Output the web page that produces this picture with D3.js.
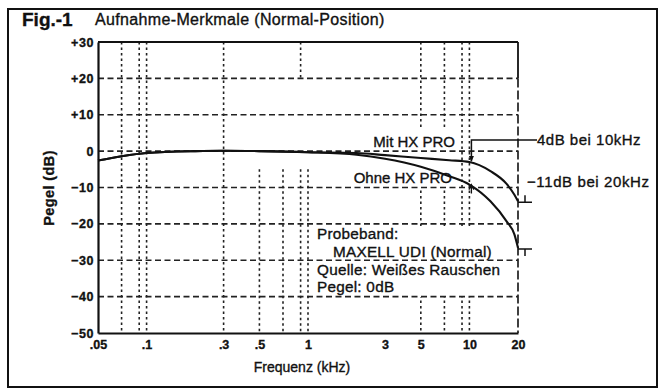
<!DOCTYPE html>
<html><head><meta charset="utf-8">
<script src="https://cdn.jsdelivr.net/npm/d3@7"></script>
<style>
html,body{margin:0;padding:0;background:#fff;}
svg{display:block;}
text{font-family:"Liberation Sans",Arial,Helvetica,sans-serif;fill:#111;stroke:#111;stroke-width:0.35px;}
</style></head>
<body>
<svg id="c" width="661" height="389"></svg>
<script>
// ---- data ----
const freqs = [0.05, 0.07, 0.1, 0.2, 0.3, 0.5, 1, 2, 3, 5, 7.5, 10, 13.5, 17, 19, 20];
const mitHX  = [-2.6, -1.4, -0.5, 0, 0.1, 0, -0.3, -0.5, -1.1, -1.9, -2.5, -3.0, -5.5, -9.0, -12.0, -13.8];
const ohneHX = [-2.6, -1.4, -0.5, 0, 0.1, 0, -0.3, -1.0, -2.1, -4.3, -6.9, -9.2, -13.8, -19.3, -22.9, -26.6];
const xTicks = [0.05, 0.1, 0.3, 0.5, 1, 3, 5, 10, 20];
const xTickLabels = [".05", ".1", ".3", ".5", "1", "3", "5", "10", "20"];
const yTicks = [30, 20, 10, 0, -10, -20, -30, -40, -50];
const yTickLabels = ["+30", "+20", "+10", "0", "\u221210", "\u221220", "\u221230", "\u221240", "\u221250"];
const hGrid = [20, 10, 0, -10, -20, -30, -40];
const vGridFreqs = [0.07, 0.09, 0.1, 0.3, 0.5, 0.7, 0.9, 0.9, 1, 5, 7, 9, 10];
const vGridFrom  = [30, 30, 30, 30, -5, -5, 30, -5, -5, 30, 30, 30, 30];
const vGridTo    = [-50, -50, -50, -50, -50, -50, 20, -50, -50, -50, -50, -50, -50];
const title1 = "Fig.-1";
const title2 = "Aufnahme-Merkmale (Normal-Position)";
const xTitle = "Frequenz (kHz)";
const yTitle = "Pegel (dB)";
const seriesNames = ["Mit HX PRO", "Ohne HX PRO"];
const noteLines = ["Probeband:", "MAXELL UDI (Normal)", "Quelle: Wei\u00dfes Rauschen", "Pegel: 0dB"];
const ann10k = "4dB bei 10kHz";
const ann20k = "\u221211dB bei 20kHz";

// ---- layout ----
const svg = d3.select("#c");
const x = d3.scaleLog().domain([0.05, 20]).range([98, 518]);
const y = d3.scaleLinear().domain([-50, 30]).range([333, 42]);

// outer frame
svg.append("rect").attr("x", 8).attr("y", 9).attr("width", 649).attr("height", 378)
  .attr("fill", "none").attr("stroke", "#111").attr("stroke-width", 2);

// titles
svg.append("text").attr("x", 22).attr("y", 26).attr("font-size", 19).attr("font-weight", "bold").text(title1);
svg.append("text").attr("x", 95).attr("y", 25).attr("font-size", 16).attr("letter-spacing", 0.35).text(title2);

// vertical grid
const g = svg.append("g");
g.selectAll(".vg").data(vGridFreqs).join("line")
  .attr("x1", d => x(d)).attr("x2", d => x(d))
  .attr("y1", (d, i) => y(vGridFrom[i])).attr("y2", (d, i) => y(vGridTo[i]))
  .attr("stroke", "#222").attr("stroke-width", 1.6).attr("stroke-dasharray", "2.5,3");

// white masks behind text blocks (vertical lines interrupted)
g.append("rect").attr("x", 345).attr("y", 127).attr("width", 110).attr("height", 63).attr("fill", "#fff");
g.append("rect").attr("x", 312).attr("y", 228).attr("width", 193).attr("height", 69).attr("fill", "#fff");

// right edge (dashed) and top edge
g.append("line").attr("x1", x(20)).attr("x2", x(20)).attr("y1", y(30)).attr("y2", y(20))
  .attr("stroke", "#111").attr("stroke-width", 1.8);
g.append("line").attr("x1", x(20)).attr("x2", x(20)).attr("y1", y(20)).attr("y2", y(-50))
  .attr("stroke", "#111").attr("stroke-width", 1.6).attr("stroke-dasharray", "9,3");

// horizontal grid
g.selectAll(".hg").data(hGrid).join("line")
  .attr("x1", x(0.05)).attr("x2", x(20))
  .attr("y1", d => y(d)).attr("y2", d => y(d))
  .attr("stroke", "#222").attr("stroke-width", 1.7).attr("stroke-dasharray", "6,3.5");

// top line
g.append("line").attr("x1", x(0.05)).attr("x2", x(20)).attr("y1", y(30)).attr("y2", y(30))
  .attr("stroke", "#111").attr("stroke-width", 1.8);

// axes (left & bottom) using d3 axes
const yAxis = d3.axisLeft(y).tickValues(yTicks).tickSize(0).tickFormat((d, i) => yTickLabels[i]);
const ya = svg.append("g").attr("transform", `translate(${x(0.05)},0)`).call(yAxis);
ya.select(".domain").attr("stroke", "#111").attr("stroke-width", 2.2);
ya.selectAll("text").attr("font-size", 12.5).attr("font-weight", "bold").attr("letter-spacing", 0.6)
  .attr("x", -4).attr("fill", "#111").style("font-family", '"Liberation Sans",Arial,sans-serif');

const xAxis = d3.axisBottom(x).tickValues(xTicks).tickSize(0).tickFormat((d, i) => xTickLabels[i]);
const xa = svg.append("g").attr("transform", `translate(0,${y(-50)})`).call(xAxis);
xa.select(".domain").attr("stroke", "#111").attr("stroke-width", 2.2);
xa.selectAll("text").attr("font-size", 12.5).attr("font-weight", "bold").attr("y", 7)
  .attr("fill", "#111").style("font-family", '"Liberation Sans",Arial,sans-serif');

// axis titles
svg.append("text").attr("x", 302).attr("y", 372).attr("text-anchor", "middle")
  .attr("font-size", 14).text(xTitle);
svg.append("text").attr("transform", "translate(54,188) rotate(-90)").attr("text-anchor", "middle")
  .attr("font-size", 14.5).attr("font-weight", "bold").attr("letter-spacing", 0.4).text(yTitle);

// curves
const line = d3.line().x(d => x(d[0])).y(d => y(d[1])).curve(d3.curveMonotoneX);
[mitHX, ohneHX].forEach(vals => {
  svg.append("path").datum(freqs.map((f, i) => [f, vals[i]]))
    .attr("d", line).attr("fill", "none").attr("stroke", "#111").attr("stroke-width", 2.1);
});

// series labels
svg.append("text").attr("x", 455).attr("y", 147).attr("text-anchor", "end").attr("font-size", 15).text(seriesNames[0]);
svg.append("text").attr("x", 452).attr("y", 183).attr("text-anchor", "end").attr("font-size", 15).text(seriesNames[1]);

// notes block
const noteX = [317, 333, 317, 317];
const noteY = [239, 257, 275, 292];
noteLines.forEach((t, i) => {
  svg.append("text").attr("x", noteX[i]).attr("y", noteY[i]).attr("font-size", 15.3).attr("letter-spacing", 0.25).text(t);
});

// 10 kHz dimension
const x10 = x(10) + 2;
svg.append("path").attr("d", `M${x10},${y(-3.0) - 1} L${x10},140 L537,140`)
  .attr("fill", "none").attr("stroke", "#111").attr("stroke-width", 1.5);
svg.append("path").attr("d", `M${x10 - 2.5},${y(-3.0) - 6} L${x10 + 2.5},${y(-3.0) - 6} L${x10},${y(-3.0)} Z`).attr("fill", "#111");
svg.append("path").attr("d", `M${x10},${y(-9.2) + 9} L${x10},${y(-9.2)} M${x10 - 2.5},${y(-9.2) + 5} L${x10},${y(-9.2)} L${x10 + 2.5},${y(-9.2) + 5}`)
  .attr("fill", "none").attr("stroke", "#111").attr("stroke-width", 1.3);
svg.append("text").attr("x", 537).attr("y", 145).attr("font-size", 15).attr("letter-spacing", 0.5).text(ann10k);

// 20 kHz dimension
const x20 = x(20);
const yM = y(-13.8) + 1, yO = y(-26.6) + 1;
svg.append("path").attr("d", `M${x20},${yM} L${x20 + 14},${yM} M${x20 + 7},${yM - 7} L${x20 + 7},${yM}`)
  .attr("fill", "none").attr("stroke", "#111").attr("stroke-width", 1.5);
svg.append("path").attr("d", `M${x20},${yO} L${x20 + 14},${yO} M${x20 + 7},${yO} L${x20 + 7},${yO + 7}`)
  .attr("fill", "none").attr("stroke", "#111").attr("stroke-width", 1.5);
svg.append("text").attr("x", 527).attr("y", 187).attr("font-size", 15).attr("letter-spacing", 0.6).text(ann20k);
</script>
</body></html>
